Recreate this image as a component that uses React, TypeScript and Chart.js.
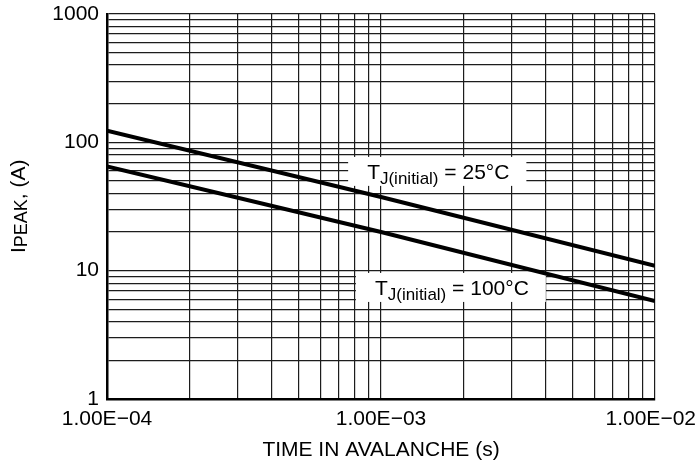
import React, { useEffect, useRef } from "react";
import { Chart, registerables } from "chart.js";

Chart.register(...registerables);

// ---- data ----
const timeSeconds = [1e-4, 1e-3, 1e-2];
const peakAt25C = [123, 37.5, 10.9];
const peakAt100C = [65, 20, 5.8];

const xMajorTicks = [1e-4, 1e-3, 1e-2];
const xTickLabels = ["1.00E\u221204", "1.00E\u221203", "1.00E\u221202"];
const yMajorTicks = [1, 10, 100, 1000];
const yTickLabels = ["1", "10", "100", "1000"];

const seriesLabels = ["= 25\u00B0C", "= 100\u00B0C"];
// label anchors (data coordinates: time, current) for the in-plot notes
const noteTimes = [8.9e-4, 9.5e-4];
const noteCurrents = [51.9, 6.47];

const xTitle = "TIME IN AVALANCHE (s)";
const yTitleMain = "I";
const yTitleSub = "PEAK";
const yTitleRest = ", (A)";

const FONT = '"Liberation Sans", Arial, Helvetica, sans-serif';
const MAIN = 21;
const SUB = 18;

function logGrid(min: number, max: number): number[] {
  const out: number[] = [];
  const e0 = Math.round(Math.log10(min));
  const e1 = Math.round(Math.log10(max));
  for (let e = e0; e <= e1; e++) {
    for (let k = 1; k <= 9; k++) {
      const v = k * Math.pow(10, e);
      if (v >= min * 0.999999 && v <= max * 1.000001) out.push(v);
      if (e === e1) break;
    }
  }
  return out;
}

function labelFor(v: number, majors: number[], labels: string[]): string {
  for (let i = 0; i < majors.length; i++) {
    if (Math.abs(Math.log10(v) - Math.log10(majors[i])) < 1e-6) return labels[i];
  }
  return "";
}

const overlayPlugin = {
  id: "overlay",
  beforeDatasetsDraw(chart: any) {
    const { ctx } = chart;
    const xs = chart.scales.x;
    const ys = chart.scales.y;
    for (let i = 0; i < seriesLabels.length; i++) {
      const x0 = xs.getPixelForValue(noteTimes[i]);
      const y0 = ys.getPixelForValue(noteCurrents[i]);
      ctx.save();
      ctx.font = `${MAIN}px ${FONT}`;
      const wT = ctx.measureText("T").width;
      const wRest = ctx.measureText(" " + seriesLabels[i]).width;
      ctx.font = `17px ${FONT}`;
      const wSub = ctx.measureText("J(initial)").width;
      const total = wT + wSub + wRest;
      ctx.fillStyle = "#fff";
      ctx.fillRect(x0 - 19, y0 - 22, total + 19 + 17, 29);
      ctx.fillStyle = "#000";
      ctx.textBaseline = "alphabetic";
      ctx.textAlign = "left";
      ctx.font = `${MAIN}px ${FONT}`;
      ctx.fillText("T", x0, y0);
      ctx.font = `17px ${FONT}`;
      ctx.fillText("J(initial)", x0 + wT, y0 + 5);
      ctx.font = `${MAIN}px ${FONT}`;
      ctx.fillText(" " + seriesLabels[i], x0 + wT + wSub, y0);
      ctx.restore();
    }
  },
  afterDraw(chart: any) {
    const { ctx, chartArea } = chart;
    const xs = chart.scales.x;
    ctx.save();
    ctx.fillStyle = "#000";
    ctx.textBaseline = "alphabetic";
    ctx.textAlign = "center";
    ctx.font = `${MAIN}px ${FONT}`;

    // x tick labels, kept inside the canvas
    for (let i = 0; i < xMajorTicks.length; i++) {
      const px = xs.getPixelForValue(xMajorTicks[i]);
      const w = ctx.measureText(xTickLabels[i]).width;
      const cx = Math.min(px, chart.width - 2 - w / 2);
      ctx.fillText(xTickLabels[i], cx, xs.top + 26);
    }

    ctx.fillText(xTitle, (chartArea.left + chartArea.right) / 2, 456);

    // rotated y title
    ctx.translate(25, 253);
    ctx.rotate(-Math.PI / 2);
    ctx.textAlign = "left";
    ctx.font = `${MAIN}px ${FONT}`;
    const wI = ctx.measureText(yTitleMain).width;
    ctx.fillText(yTitleMain, 0, 0);
    ctx.font = `${SUB}px ${FONT}`;
    const wP = ctx.measureText(yTitleSub).width;
    ctx.fillText(yTitleSub, wI, 2);
    ctx.font = `${MAIN}px ${FONT}`;
    ctx.fillText(yTitleRest, wI + wP, 0);
    ctx.restore();
  },
};

export default function App() {
  const ref = useRef<HTMLCanvasElement>(null);

  useEffect(() => {
    const xGrid = logGrid(xMajorTicks[0], xMajorTicks[xMajorTicks.length - 1]);
    const yGrid = logGrid(yMajorTicks[0], yMajorTicks[yMajorTicks.length - 1]);

    const chart = new Chart(ref.current as HTMLCanvasElement, {
      type: "line",
      data: {
        datasets: [
          {
            label: "25C",
            data: timeSeconds.map((t, i) => ({ x: t, y: peakAt25C[i] })),
            borderColor: "#000",
            borderWidth: 4,
            pointRadius: 0,
            fill: false,
          },
          {
            label: "100C",
            data: timeSeconds.map((t, i) => ({ x: t, y: peakAt100C[i] })),
            borderColor: "#000",
            borderWidth: 4,
            pointRadius: 0,
            fill: false,
          },
        ],
      },
      options: {
        animation: false,
        responsive: false,
        layout: { padding: { left: 0, right: 43, top: 14, bottom: 0 } },
        plugins: {
          legend: { display: false },
          tooltip: { enabled: false },
          title: { display: false },
        },
        scales: {
          x: {
            type: "logarithmic",
            min: xMajorTicks[0],
            max: xMajorTicks[xMajorTicks.length - 1],
            position: "bottom",
            afterBuildTicks: (s: any) => {
              s.ticks = xGrid.map((v) => ({ value: v }));
            },
            afterFit: (s: any) => {
              s.height = 69;
              s.paddingLeft = 0;
              s.paddingRight = 0;
            },
            grid: { color: "#1c1c1c", lineWidth: 1.2, drawTicks: false },
            border: { display: true, color: "#000", width: 2.5 },
            ticks: {
              autoSkip: false,
              maxRotation: 0,
              minRotation: 0,
              padding: 8,
              color: "#000",
              font: { family: FONT, size: MAIN },
              // labels are drawn by the overlay plugin; empty strings keep grid lines
              callback: () => "",
            },
          },
          y: {
            type: "logarithmic",
            min: yMajorTicks[0],
            max: yMajorTicks[yMajorTicks.length - 1],
            position: "left",
            afterBuildTicks: (s: any) => {
              s.ticks = yGrid.map((v) => ({ value: v }));
            },
            afterFit: (s: any) => {
              s.width = 107;
              s.paddingTop = 0;
              s.paddingBottom = 0;
            },
            grid: { color: "#1c1c1c", lineWidth: 1.2, drawTicks: false },
            border: { display: true, color: "#000", width: 2.5 },
            ticks: {
              autoSkip: false,
              padding: 8,
              color: "#000",
              font: { family: FONT, size: MAIN },
              callback: (v: any) => labelFor(Number(v), yMajorTicks, yTickLabels),
            },
          },
        },
      },
      plugins: [overlayPlugin],
    } as any);

    return () => chart.destroy();
  }, []);

  return (
    <div
      style={{
        position: "fixed",
        left: 0,
        top: 0,
        width: 698,
        height: 468,
        background: "#fff",
      }}
    >
      <canvas
        ref={ref}
        width={698}
        height={468}
        style={{ display: "block", width: 698, height: 468 }}
      />
    </div>
  );
}
